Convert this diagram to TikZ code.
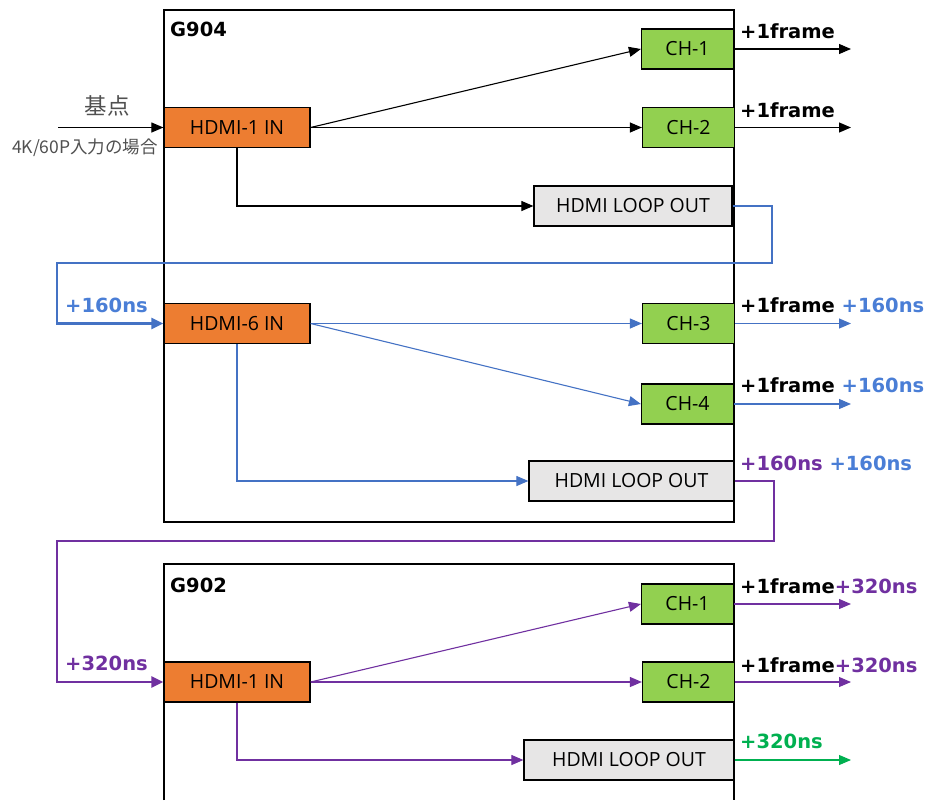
\documentclass[tikz,border=0pt]{standalone}
\usepackage{fontspec}
\setmainfont{Open Sans}
\newfontfamily\labelfont{DejaVu Sans}
\newfontfamily\cjk{Noto Sans CJK JP}
\usetikzlibrary{arrows.meta}
\definecolor{HOrange}{HTML}{ED7D31}
\definecolor{HGreen}{HTML}{92D050}
\definecolor{HGray}{HTML}{E7E6E6}
\definecolor{LBlue}{HTML}{4472C4}
\definecolor{TBlue}{HTML}{4A7ED6}
\definecolor{LPurple}{HTML}{7030A0}
\definecolor{LGreen}{HTML}{00B050}
\definecolor{DGray}{HTML}{505050}

\begin{document}
\begin{tikzpicture}[x=1pt, y=-1pt,
    unit/.style={draw=black, line width=2.2pt},
    box/.style={draw=black, line width=1.2pt, inner sep=0pt,
        minimum height=40pt, font=\fontsize{19.5}{22}\selectfont},
    inbox/.style={box, fill=HOrange, minimum width=146pt},
    chbox/.style={box, fill=HGreen, minimum width=92pt},
    loopbox/.style={box, fill=HGray},
    wire/.style={line width=1.1pt, -{Triangle[length=12pt,width=10pt]}},
    link/.style={line width=2.6pt, -{Triangle[length=12pt,width=11pt]}},
    delay/.style={anchor=base west, inner sep=0pt,
        font=\labelfont\bfseries\fontsize{19.5}{22}\selectfont},
    title/.style={anchor=base west, inner sep=0pt,
        font=\labelfont\bfseries\fontsize{19.5}{22}\selectfont}]
\useasboundingbox (0,0) rectangle (931,800);

% G904
\draw[unit] (164,10) rectangle (734,522);
\node[title] (A1-title) at (170,37) {G904};

\node[inbox] (A1-hdmi) at (237,127.5) {HDMI-1 IN};
\node[chbox] (A1-ch1) at (687.5,49) {CH-1};
\node[chbox] (A1-ch2) at (688.5,127.5) {CH-2};
\node[loopbox, minimum width=198pt] (A1-loop) at (633,206) {HDMI LOOP OUT};

\coordinate (A1-in) at (58,127.5);
\coordinate (A1-out1) at (851,49);
\coordinate (A1-out2) at (851,127.5);
\coordinate (A1-turn) at (772,263);
\coordinate (A1-back) at (57,263);

\node[font=\cjk\fontsize{22.5}{24}\selectfont, text=DGray] (A1-base) at (107,106) {基点};
\node[font=\cjk\fontsize{17.5}{19}\selectfont, text=DGray] (A1-note) at (85,148) {4K/60P入力の場合};

\draw[wire] (A1-in) -- (A1-hdmi.west);
\draw[wire] (A1-hdmi.east) -- (A1-ch1.west);
\draw[wire] (A1-hdmi.east) -- (A1-ch2.west);
\draw[wire] (A1-hdmi.south) |- (A1-loop.west);
\draw[wire] (A1-ch1.east) -- (A1-out1);
\draw[wire] (A1-ch2.east) -- (A1-out2);

\node[delay] (A1-d1) at (740,38) {+1frame};
\node[delay] (A1-d2) at (740,117) {+1frame};

% HDMI-6
\node[inbox] (A2-hdmi) at (237,323.5) {HDMI-6 IN};
\node[chbox] (A2-ch3) at (688.5,323.5) {CH-3};
\node[chbox] (A2-ch4) at (687.5,404) {CH-4};
\node[loopbox, minimum width=205pt] (A2-loop) at (631.5,481) {HDMI LOOP OUT};

\coordinate (A2-out3) at (851,323.5);
\coordinate (A2-out4) at (851,404);
\coordinate (A2-turn) at (774,541);
\coordinate (A2-back) at (57,541);

\draw[link, LBlue] (A1-loop.east) -| (A1-turn) -- (A1-back) |- (A2-hdmi.west);
\node[delay, text=TBlue] (A2-left) at (65,312) {+160ns};

\draw[wire, LBlue] (A2-hdmi.east) -- (A2-ch3.west);
\draw[wire, LBlue] (A2-hdmi.east) -- (A2-ch4.west);
\draw[wire, LBlue] (A2-hdmi.south) |- (A2-loop.west);
\draw[wire, LBlue] (A2-ch3.east) -- (A2-out3);
\draw[wire, LBlue] (A2-ch4.east) -- (A2-out4);

\node[delay] (A2-d3) at (740,312) {+1frame \textcolor{TBlue}{+160ns}};
\node[delay] (A2-d4) at (740,392) {+1frame \textcolor{TBlue}{+160ns}};
\node[delay, text=LPurple] (A2-d5) at (740,470) {+160ns \textcolor{TBlue}{+160ns}};

% G902
\draw[unit] (164,800) -- (164,564) -- (734,564) -- (734,800);
\node[title] (B1-title) at (170,592) {G902};

\node[inbox] (B1-hdmi) at (237,682) {HDMI-1 IN};
\node[chbox] (B1-ch1) at (687.5,604) {CH-1};
\node[chbox] (B1-ch2) at (688.5,682) {CH-2};
\node[loopbox, minimum width=210pt] (B1-loop) at (629,760) {HDMI LOOP OUT};

\coordinate (B1-out1) at (851,604);
\coordinate (B1-out2) at (851,682);
\coordinate (B1-out3) at (851,760);

\draw[link, LPurple] (A2-loop.east) -| (A2-turn) -- (A2-back) |- (B1-hdmi.west);
\node[delay, text=LPurple] (B1-left) at (65,670) {+320ns};

\draw[wire, LPurple] (B1-hdmi.east) -- (B1-ch1.west);
\draw[wire, LPurple] (B1-hdmi.east) -- (B1-ch2.west);
\draw[wire, LPurple] (B1-hdmi.south) |- (B1-loop.west);
\draw[wire, LPurple] (B1-ch1.east) -- (B1-out1);
\draw[wire, LPurple] (B1-ch2.east) -- (B1-out2);
\draw[wire, LGreen] (B1-loop.east) -- (B1-out3);

\node[delay] (B1-d1) at (740,593) {+1frame\textcolor{LPurple}{+320ns}};
\node[delay] (B1-d2) at (740,672) {+1frame\textcolor{LPurple}{+320ns}};
\node[delay, text=LGreen] (B1-d3) at (740,748) {+320ns};
\end{tikzpicture}
\end{document}
